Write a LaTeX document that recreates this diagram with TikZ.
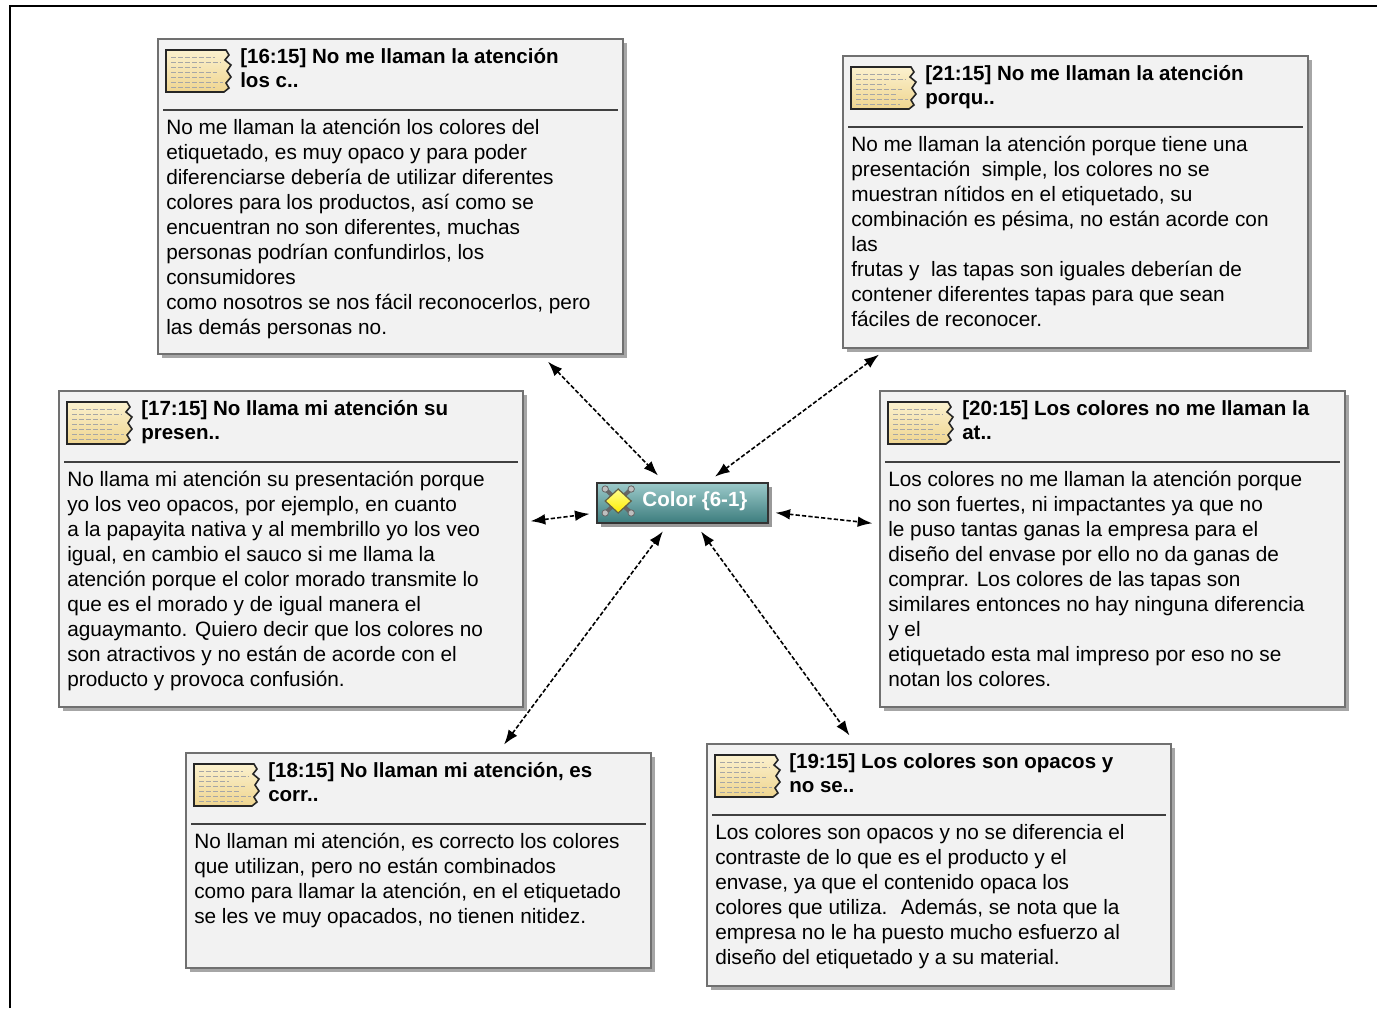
\documentclass[tikz,border=0pt]{standalone}
\usepackage{fontspec}
\setmainfont{Liberation Sans}
\usetikzlibrary{arrows.meta,shadows}
\definecolor{paneFill}{HTML}{F2F2F2}
\definecolor{paneLine}{HTML}{707070}
\definecolor{hubTop}{HTML}{9CCACA}
\definecolor{hubBot}{HTML}{3C7C7D}
\definecolor{memoTop}{HTML}{FBF1CF}
\definecolor{memoBot}{HTML}{EFD58F}
\tikzset{
  pane/.style={draw=paneLine,line width=1.5pt,fill=paneFill,anchor=north west,inner sep=0pt,
    drop shadow={shadow xshift=3pt,shadow yshift=-3pt,fill=black,opacity=.35}},
  rule/.style={draw=black!75,line width=1.2pt},
  memo/.style={draw=black!85,line width=1.2pt,top color=memoTop,bottom color=memoBot},
  memotext/.style={draw=black!35,line width=.6pt,dash pattern=on 4pt off 1.2pt},
  headtext/.style={font=\bfseries\fontsize{15.4}{18}\selectfont,align=left,anchor=base west,inner sep=0pt},
  bodytext/.style={font=\fontsize{15.6}{18.75}\selectfont,align=left,anchor=base west,inner sep=0pt},
  hub/.style={draw=black!80,line width=1.2pt,top color=hubTop,bottom color=hubBot,inner sep=0pt,
    minimum width=128.25pt,minimum height=30pt,
    drop shadow={shadow xshift=3pt,shadow yshift=-3pt,fill=black,opacity=.4}},
  hubtext/.style={font=\bfseries\fontsize{15.4}{18}\selectfont,text=white,inner sep=0pt,anchor=west},
  link/.style={<->,dash pattern=on 3.2pt off 1.6pt,line width=1.2pt,shorten >=7pt,shorten <=7pt}
}
% memo icon, top left corner at #1, sizes in px
\newcommand{\memoicon}[1]{%
  \begin{scope}[shift={(#1)}]
    \draw[memo] (0,0) -- (60,0) -- (63,5) -- (59,10) -- (65,15) -- (61,21) -- (65,27)
      -- (60,33) -- (63,38) -- (58,42) -- (0,42) -- cycle;
    \draw[black!85,line width=2.2pt] (0,0) -- (0,42);
    \foreach \yy/\ll in {7/44,12/50,17/30,22/46,27/40,32/52,37/44}
      \draw[memotext] (5,\yy) -- ++(\ll,0);
  \end{scope}}
% code icon of the hub
\newcommand{\hubicon}[1]{%
  \begin{scope}[shift={(#1)}]
    \draw[black!60,line width=3pt] (-13,-12) -- (13,12) (-13,12) -- (13,-12);
    \foreach \cx/\cy in {-13/-12,13/12,-13/12,13/-12}
      \filldraw[fill=black!25,draw=black!60,line width=.6pt] (\cx,\cy) circle (2.4pt);
    \draw[black!70!yellow,line width=.9pt,top color=yellow!45,bottom color=yellow!85!orange]
      (0,-12) -- (13,0) -- (0,12) -- (-13,0) -- cycle;
  \end{scope}}
\begin{document}
\begin{tikzpicture}[x=0.75pt,y=-0.75pt,>={Latex[length=11pt,width=8pt]}]
\useasboundingbox (0,0) rectangle (1377,1008);
\draw[line width=1.2pt] (10,1008) -- (10,6) -- (1377,6);

% panes
\foreach \n/\x/\y/\w/\h in {A/157/38/465/315,B/842/55/465/292,C/58/390/464/316,
                             D/879/390/465/316,E/185/752/465/215,F/706/743/464/242}{
  \node[pane,minimum width=\w*0.75pt,minimum height=\h*0.75pt] (\n) at (\x,\y) {};
  \draw[rule] ([shift={(6,72)}]\n.north west) -- ([shift={(-6,72)}]\n.north east);
  \coordinate (\n i) at ([shift={(9,12)}]\n.north west);
  \memoicon{\n i}
}

% hub
\node[hub] (hub) at (682.5,503) {};
\hubicon{[shift={(22,-2)}]hub.west}
\node[hubtext] (hubt) at ([shift={(46,-2)}]hub.west) {Color \{6-1\}};

% titles (base = last line)
\node[headtext] (tA) at ([shift={(83,49)}]A.north west) {[16:15] No me llaman la atención\\los c..};
\node[headtext] (tB) at ([shift={(83,49)}]B.north west) {[21:15] No me llaman la atención\\porqu..};
\node[headtext] (tC) at ([shift={(83,49)}]C.north west) {[17:15] No llama mi atención su\\presen..};
\node[headtext] (tD) at ([shift={(83,49)}]D.north west) {[20:15] Los colores no me llaman la\\at..};
\node[headtext] (tE) at ([shift={(83,49)}]E.north west) {[18:15] No llaman mi atención, es\\corr..};
\node[headtext] (tF) at ([shift={(83,49)}]F.north west) {[19:15] Los colores son opacos y\\no se..};

% bodies (base = last line)
\node[bodytext] (bA) at ([shift={(9,296)}]A.north west) {No me llaman la atención los colores del\\
etiquetado, es muy opaco y para poder\\
diferenciarse debería de utilizar diferentes\\
colores para los productos, así como se\\
encuentran no son diferentes, muchas\\
personas podrían confundirlos, los\\
consumidores\\
como nosotros se nos fácil reconocerlos, pero\\
las demás personas no.};
\node[bodytext] (bB) at ([shift={(9,271)}]B.north west) {No me llaman la atención porque tiene una\\
presentación~ simple, los colores no se\\
muestran nítidos en el etiquetado, su\\
combinación es pésima, no están acorde con\\
las\\
frutas y~ las tapas son iguales deberían de\\
contener diferentes tapas para que sean\\
fáciles de reconocer.};
\node[bodytext] (bC) at ([shift={(9,296)}]C.north west) {No llama mi atención su presentación porque\\
yo los veo opacos, por ejemplo, en cuanto\\
a la papayita nativa y al membrillo yo los veo\\
igual, en cambio el sauco si me llama la\\
atención porque el color morado transmite lo\\
que es el morado y de igual manera el\\
aguaymanto. Quiero decir que los colores no\\
son atractivos y no están de acorde con el\\
producto y provoca confusión.};
\node[bodytext] (bD) at ([shift={(9,296)}]D.north west) {Los colores no me llaman la atención porque\\
no son fuertes, ni impactantes ya que no\\
le puso tantas ganas la empresa para el\\
diseño del envase por ello no da ganas de\\
comprar. Los colores de las tapas son\\
similares entonces no hay ninguna diferencia\\
y el\\
etiquetado esta mal impreso por eso no se\\
notan los colores.};
\node[bodytext] (bE) at ([shift={(9,171)}]E.north west) {No llaman mi atención, es correcto los colores\\
que utilizan, pero no están combinados\\
como para llamar la atención, en el etiquetado\\
se les ve muy opacados, no tienen nitidez.};
\node[bodytext] (bF) at ([shift={(9,221)}]F.north west) {Los colores son opacos y no se diferencia el\\
contraste de lo que es el producto y el\\
envase, ya que el contenido opaca los\\
colores que utiliza.~ Además, se nota que la\\
empresa no le ha puesto mucho esfuerzo al\\
diseño del etiquetado y a su material.};

% links
\draw[link] ([shift={(151,0)}]A.south) -- ([shift={(-18,0)}]hub.north);
\draw[link] ([shift={(-189,0)}]B.south) -- ([shift={(25,0)}]hub.north);
\draw[link,shorten >=5pt,shorten <=5pt] ([shift={(0,-27)}]C.east) -- ([shift={(0,10)}]hub.west);
\draw[link,shorten >=5pt,shorten <=5pt] ([shift={(0,9)}]hub.east) -- ([shift={(0,-25)}]D.west);
\draw[link] ([shift={(80,0)}]E.north) -- ([shift={(-14,0)}]hub.south);
\draw[link] ([shift={(13,0)}]hub.south) -- ([shift={(-84,0)}]F.north);
\end{tikzpicture}
\end{document}
